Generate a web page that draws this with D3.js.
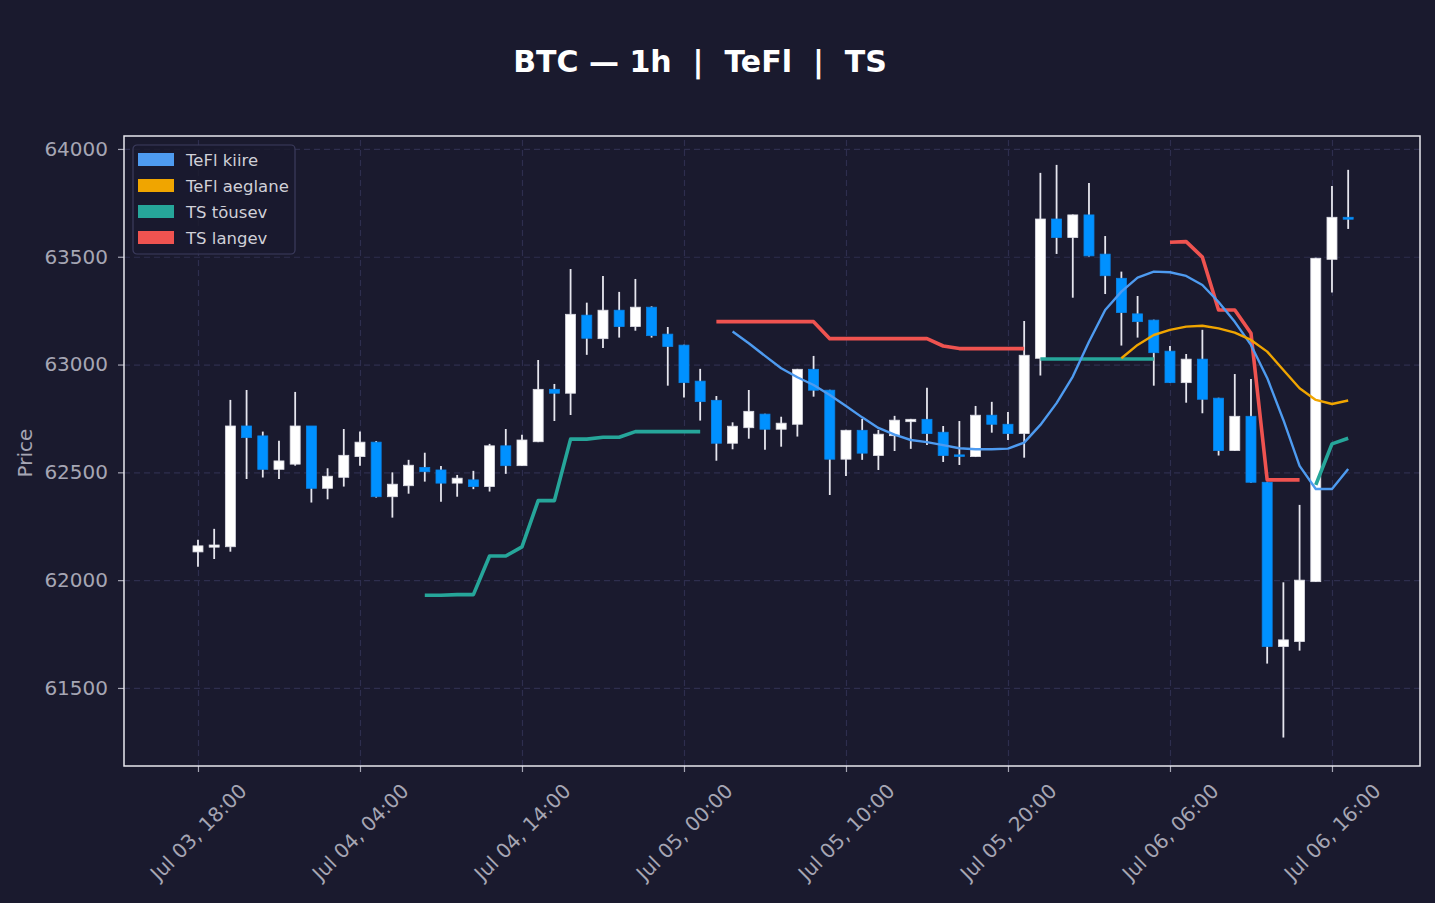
<!DOCTYPE html>
<meta charset="utf-8">
<title>BTC 1h TeFl TS</title>
<style>
body { margin: 0; background: #1a1a2e; }
svg { display: block; font-family: "DejaVu Sans", sans-serif; }
.grid line { stroke: #2e2e4e; stroke-dasharray: 6,4; stroke-width: 1.2; }
.grid path { stroke-width: 0; }
.tick text { fill: #a6a6b4; font-family: "DejaVu Sans", sans-serif; }
</style>
<svg width="1435" height="903"></svg>
<script src="https://d3js.org/d3.v7.min.js"></script>
<script>

// hourly candles starting Jul 03 18:00
var startTime = new Date(Date.UTC(2024, 6, 3, 18));
var nCandles = 72;

var open = [62131,62153,62155,62715,62669,62514,62538,62715,62426,62477,62573,62640,62387,62438,
  62523,62511,62450,62465,62434,62623,62531,62642,62885,62867,63229,63120,63252,63176,63266,63141,
  63090,62923,62834,62635,62707,62770,62700,62723,62978,62881,62561,62695,62578,62670,62735,62746,
  62686,62581,62573,62765,62723,62680,63029,63675,63589,63694,63512,63400,63235,63206,63062,62916,
  63025,62844,62601,62760,62454,61692,61715,61993,63488,63683];
var close = [62159,62163,62715,62661,62514,62553,62715,62426,62482,62579,62640,62387,62445,62533,
  62503,62450,62473,62434,62623,62531,62650,62885,62867,63233,63122,63252,63176,63266,63134,63084,
  62916,62828,62635,62714,62783,62700,62728,62978,62881,62561,62695,62589,62677,62742,62746,62680,
  62578,62575,62765,62723,62680,63043,63675,63589,63694,63504,63412,63241,63199,63055,62916,63025,
  62839,62601,62760,62454,61692,61723,62000,63493,63683,63674];
var high = [62187,62238,62836,62882,62689,62646,62873,62715,62519,62701,62689,62645,62500,62558,
  62591,62530,62488,62507,62632,62701,62674,63021,62910,63443,63287,63411,63337,63397,63270,63174,
  63092,62980,62854,62732,62882,62772,62758,62980,63040,62883,62697,62748,62697,62762,62748,62892,
  62715,62738,62808,62827,62780,63202,63889,63926,63696,63842,63596,63431,63318,63208,63086,63049,
  63161,62846,62956,62933,62456,61990,62349,63495,63828,63903];
var low = [62062,62098,62132,62469,62476,62469,62531,62360,62375,62434,62531,62383,62290,62401,
  62457,62364,62387,62422,62411,62493,62529,62640,62738,62766,63045,63077,63125,63157,63125,62902,
  62847,62740,62554,62607,62656,62605,62619,62666,62851,62395,62483,62558,62511,62599,62609,62627,
  62548,62534,62571,62684,62650,62568,62949,63513,63310,63501,63327,63088,63125,62902,62914,62823,
  62774,62578,62599,62452,61613,61270,61673,61991,63334,63629];

// indicator lines (null = not drawn)
var teflFast = [null,null,null,null,null,null,null,null,null,null,null,null,null,null,
  null,null,null,null,null,null,null,null,null,null,null,null,null,null,null,null,
  null,null,null,63153,63099,63040,62983,62941,62905,62859,62808,62755,62706,62675,62650,62640,
  62626,62612,62607,62607,62610,62638,62720,62821,62944,63106,63253,63338,63403,63431,63428,63411,
  63369,63290,63198,63091,62938,62743,62530,62423,62423,62516];
var teflSlow = [null,null,null,null,null,null,null,null,null,null,null,null,null,null,
  null,null,null,null,null,null,null,null,null,null,null,null,null,null,null,null,
  null,null,null,null,null,null,null,null,null,null,null,null,null,null,null,null,
  null,null,null,null,null,null,null,null,null,null,null,63029,63091,63137,63161,63176,
  63180,63168,63148,63114,63060,62975,62890,62836,62817,62833];
var tsUp = [null,null,null,null,null,null,null,null,null,null,null,null,null,null,
  61930,61930,61933,61933,62112,62112,62154,62369,62369,62654,62654,62663,62663,62689,62689,62689,
  62689,62689,null,null,null,null,null,null,null,null,null,null,null,null,null,null,
  null,null,null,null,null,null,63026,63026,63026,63026,63026,63026,63026,63026,null,null,
  null,null,null,null,null,null,null,62442,62632,62658];
var tsDown = [null,null,null,null,null,null,null,null,null,null,null,null,null,null,
  null,null,null,null,null,null,null,null,null,null,null,null,null,null,null,null,
  null,null,63199,63199,63199,63199,63199,63199,63199,63120,63120,63120,63120,63120,63120,63120,
  63086,63074,63074,63074,63074,63074,null,null,null,null,null,null,null,null,63567,63570,
  63498,63253,63253,63145,62465,62465,62465,null,null,null];

var yTicks = [61500, 62000, 62500, 63000, 63500, 64000];
var xTickHours = [0, 10, 20, 30, 40, 50, 60, 70];

var legendNames = ["TeFl kiire", "TeFl aeglane", "TS tõusev", "TS langev"];
var legendColors = ["#4e9bf0", "#f0a500", "#26a69a", "#ef5350"];

var candles = d3.range(nCandles).map(function(i) {
  return {t: d3.utcHour.offset(startTime, i), o: open[i], h: high[i], l: low[i], c: close[i]};
});

var svg = d3.select("svg"),
    margin = {top: 136, right: 15, bottom: 137, left: 124},
    width = +svg.attr("width") - margin.left - margin.right,
    height = +svg.attr("height") - margin.top - margin.bottom;

svg.append("rect").attr("width", 1435).attr("height", 903).attr("fill", "#1a1a2e");

var g = svg.append("g").attr("transform", "translate(" + margin.left + "," + margin.top + ")");

var x = d3.scaleUtc()
    .domain([d3.utcMinute.offset(startTime, -274), d3.utcMinute.offset(startTime, 75 * 60 + 26)])
    .range([0, width]);

var y = d3.scaleLinear()
    .domain([61138, 64060])
    .range([height, 0]);

var xTickDates = xTickHours.map(function(h) { return d3.utcHour.offset(startTime, h); });
var fmt = d3.utcFormat("%b %d, %H:%M");

// gridlines
g.append("g")
    .attr("class", "grid")
    .attr("transform", "translate(0," + height + ")")
    .call(d3.axisBottom(x).tickValues(xTickDates).tickSize(-height).tickFormat(""));
g.append("g")
    .attr("class", "grid")
    .call(d3.axisLeft(y).tickValues(yTicks).tickSize(-width).tickFormat(""));

// candles
var candleW = 10;
var cg = g.append("g");
cg.selectAll(".wick")
    .data(candles)
  .enter().append("line")
    .attr("x1", function(d) { return x(d.t); })
    .attr("x2", function(d) { return x(d.t); })
    .attr("y1", function(d) { return y(d.h); })
    .attr("y2", function(d) { return y(d.l); })
    .attr("stroke", "#e6e6ee")
    .attr("stroke-width", 1.8);
cg.selectAll(".body")
    .data(candles)
  .enter().append("rect")
    .attr("x", function(d) { return x(d.t) - candleW / 2; })
    .attr("width", candleW)
    .attr("y", function(d) { return y(Math.max(d.o, d.c)); })
    .attr("height", function(d) { return Math.max(1.5, Math.abs(y(d.o) - y(d.c))); })
    .attr("fill", function(d) { return d.c >= d.o ? "#ffffff" : "#0091ff"; })
    .attr("stroke", function(d) { return d.c >= d.o ? "#dcdce4" : "#0a84e8"; })
    .attr("stroke-width", 0.8);

// indicator lines
function drawLine(vals, color, w) {
  var line = d3.line()
      .defined(function(d) { return d != null; })
      .x(function(d, i) { return x(candles[i].t); })
      .y(function(d) { return y(d); });
  g.append("path")
      .datum(vals)
      .attr("fill", "none")
      .attr("stroke", color)
      .attr("stroke-width", w)
      .attr("stroke-linejoin", "round")
      .attr("d", line);
}
drawLine(tsUp, legendColors[2], 3.6);
drawLine(tsDown, legendColors[3], 3.6);
drawLine(teflFast, legendColors[0], 2.4);
drawLine(teflSlow, legendColors[1], 2.4);

// axes
var yAxis = g.append("g")
    .call(d3.axisLeft(y).tickValues(yTicks).tickSize(6).tickPadding(10).tickFormat(d3.format("d")));
yAxis.select(".domain").remove();
yAxis.attr("font-family", null);
yAxis.selectAll(".tick line").attr("stroke", "#a6a6b4").attr("stroke-width", 1.2);
yAxis.selectAll("text").style("font-size", "20px");

var xAxis = g.append("g")
    .attr("transform", "translate(0," + height + ")")
    .call(d3.axisBottom(x).tickValues(xTickDates).tickSize(6).tickFormat(fmt));
xAxis.select(".domain").remove();
xAxis.attr("font-family", null);
xAxis.selectAll(".tick line").attr("stroke", "#a6a6b4").attr("stroke-width", 1.2);
xAxis.selectAll("text")
    .style("font-size", "20px")
    .attr("text-anchor", "middle")
    .attr("dominant-baseline", "central")
    .attr("y", 0)
    .attr("dy", null)
    .attr("transform", function() {
      var w = this.getComputedTextLength();
      var half = (w + 15) * 0.7071 / 2;
      return "translate(0," + (16 + half) + ") rotate(-45)";
    });

// frame
g.append("rect")
    .attr("width", width)
    .attr("height", height)
    .attr("fill", "none")
    .attr("stroke", "#e8e8ee")
    .attr("stroke-width", 1.5);

// y label
svg.append("text")
    .attr("transform", "translate(32,453) rotate(-90)")
    .attr("text-anchor", "middle")
    .style("font-size", "20px")
    .style("fill", "#a6a6b4")
    .text("Price");

// title
svg.append("text")
    .attr("x", 700)
    .attr("y", 72)
    .attr("text-anchor", "middle")
    .style("font-size", "30px")
    .style("font-weight", "bold")
    .style("fill", "#ffffff")
    .style("white-space", "pre")
    .text("BTC \u2014 1h  |  TeFl  |  TS");

// legend
var lg = svg.append("g").attr("transform", "translate(133,145)");
lg.append("rect")
    .attr("width", 162)
    .attr("height", 109)
    .attr("rx", 4)
    .attr("fill", "#1a1a2e")
    .attr("fill-opacity", 0.85)
    .attr("stroke", "#3c3c5e")
    .attr("stroke-width", 1.2);
legendNames.forEach(function(n, i) {
  lg.append("rect")
      .attr("x", 5)
      .attr("y", 8 + i * 26)
      .attr("width", 36)
      .attr("height", 13)
      .attr("fill", legendColors[i]);
  lg.append("text")
      .attr("x", 53)
      .attr("y", 15 + i * 26)
      .attr("dy", "0.35em")
      .style("font-size", "16.5px")
      .style("fill", "#d0d0d8")
      .text(n);
});

</script>
